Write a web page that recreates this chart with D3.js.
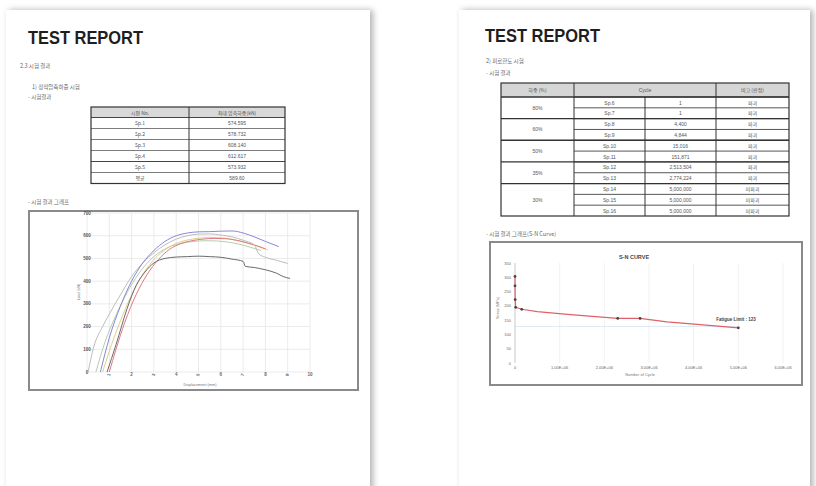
<!DOCTYPE html>
<html><head><meta charset="utf-8">
<script src="https://cdn.jsdelivr.net/npm/d3@7/dist/d3.min.js"></script>
<style>
html,body{margin:0;padding:0;background:#fff;}
svg{display:block;font-family:"Liberation Sans",Arial,sans-serif;}
.kr{font-family:"Noto Sans CJK KR","Liberation Sans",sans-serif;}
</style></head>
<body><svg id="c" width="816" height="486"></svg>
<script>
// ---------- DATA ----------
// Page 1 : static compression test table
const staticSpecimens = ["Sp.1","Sp.2","Sp.3","Sp.4","Sp.5","평균"];
const staticLoads = ["574.595","578.732","608.140","612.617","573.932","589.60"];
// Page 1 : load-displacement curves (displacement mm, load kN)
const dispTicks = [0,1,2,3,4,5,6,7,8,9,10];
const loadTicks = [0,100,200,300,400,500,600,700];
const disp_sp1 = [0.6,1.0,1.5,2.0,2.5,3.0,3.5,4.0,4.5,5.0,5.5,6.0,6.5,7.0,7.5,8.0,8.6];
const load_sp1 = [0,150,290,400,480,535,575,600,612,617,618,620,621,612,595,575,552];
const disp_sp2 = [0.05,0.3,0.7,1.0,1.5,2.0,2.5,3.0,3.5,4.0,4.5,5.0,5.5,6.0,6.5,7.0,7.5,7.7,8.0,8.5,9.0];
const load_sp2 = [0,110,200,255,340,420,480,525,560,585,600,607,608,603,595,580,560,520,505,492,478];
const disp_sp3 = [1.0,1.3,1.7,2.2,2.7,3.2,3.7,4.2,4.7,5.2,5.7,6.2,6.7,7.2,7.7,8.0];
const load_sp3 = [0,100,220,340,430,495,540,565,578,585,588,587,580,568,553,542];
const disp_sp4 = [0.7,1.1,1.6,2.1,2.6,3.1,3.6,4.1,4.6,5.1,5.6,6.1,6.6,7.1,7.6,8.1];
const load_sp4 = [0,120,250,360,445,505,545,570,583,590,592,590,582,570,555,538];
const disp_sp5 = [0.4,0.8,1.3,1.8,2.3,2.8,3.3,3.8,4.3,4.8,5.3,5.8,6.3,6.8,7.3,7.8];
const load_sp5 = [0,130,250,350,430,490,530,555,568,575,578,577,572,563,550,535];
const disp_sp6 = [0.9,1.3,1.8,2.2,2.6,3.0,3.5,4.0,4.5,5.0,5.5,6.0,6.5,7.0,7.1,7.5,8.0,8.5,8.8,9.1];
const load_sp6 = [0,120,280,380,440,480,500,506,508,510,508,505,497,487,465,460,450,435,420,412];
const curveColors = ["#8c86d8","#bdbdbd","#e07a80","#dcd08a","#b5cfae","#6a6a6a"];

// Page 2 : fatigue test table
const fatigueLevels = ["80%","60%","50%","35%","30%"];
const levelSpans = [2,2,2,2,3];
const fatigueSpecimens = ["Sp.6","Sp.7","Sp.8","Sp.9","Sp.10","Sp.11","Sp.12","Sp.13","Sp.14","Sp.15","Sp.16"];
const fatigueCycles = ["1","1","4,400","4,844","15,016","151,871","2,513,504","2,774,224","5,000,000","5,000,000","5,000,000"];
const fatigueResults = ["파괴","파괴","파괴","파괴","파괴","파괴","파괴","파괴","미파괴","미파괴","미파괴"];
// Page 2 : S-N curve
const cycleTicks = [0,1000000,2000000,3000000,4000000,5000000,6000000];
const cycleTickLabels = ["0","1.00E+06","2.00E+06","3.00E+06","4.00E+06","5.00E+06","6.00E+06"];
const stressTicks = [0,50,100,150,200,250,300,350];
const snCycles = [1,1,4400,15016,151871,2300000,2800000,5000000];
const snStress = [303,270,222,195,188,156,156,123];
const snCurveCycles = [1,1,4400,15016,151871,500000,1240000,2300000,2800000,3400000,4150000,5000000];
const snCurveStress = [303,270,222,195,188,180,169,156,156,144,134,123];
const fatigueLimit = 123;

// ---------- DRAW ----------
const svg = d3.select("#c");
const defs = svg.append("defs");
const f = defs.append("filter").attr("id","sh").attr("x","-10%").attr("y","-10%").attr("width","120%").attr("height","120%");
f.append("feDropShadow").attr("dx",3).attr("dy",0).attr("stdDeviation",3).attr("flood-color","#000").attr("flood-opacity",0.3);

svg.append("rect").attr("x",6).attr("y",10).attr("width",364).attr("height",500).attr("fill","#fff").attr("filter","url(#sh)");
svg.append("rect").attr("x",459).attr("y",10).attr("width",351).attr("height",500).attr("fill","#fff").attr("filter","url(#sh)");

function txt(g,x,y,s,size,opts={}){
  const t=g.append("text").attr("x",x).attr("y",y).text(s).attr("font-size",size)
    .attr("fill",opts.fill||"#666").attr("text-anchor",opts.anchor||"start");
  if(opts.kr) t.attr("class","kr");
  if(opts.bold) t.attr("font-weight","bold");
  return t;
}

// ===== Page 1 =====
const p1 = svg.append("g");
txt(p1,28,44,"TEST REPORT",17.5,{fill:"#1e1e1e",bold:true}).attr("textLength",115).attr("lengthAdjust","spacingAndGlyphs");
txt(p1,20,68,"2.3 시험 결과",5.5,{kr:true});
txt(p1,32,89,"1) 정적압축하중 시험",5.5,{kr:true});
txt(p1,28,99,"- 시험결과",5.5,{kr:true});

// table 1
const t1x=[91,189,285], t1y0=107, t1hh=10.5, t1rh=11;
p1.append("rect").attr("x",t1x[0]).attr("y",t1y0).attr("width",t1x[2]-t1x[0]).attr("height",t1hh).attr("fill","#d9d9d9");
txt(p1,(t1x[0]+t1x[1])/2,t1y0+7.5,"시편 No.",5,{kr:true,anchor:"middle",fill:"#555"});
txt(p1,(t1x[1]+t1x[2])/2,t1y0+7.5,"최대 압축하중(kN)",5,{kr:true,anchor:"middle",fill:"#555"});
staticSpecimens.forEach((s,i)=>{
  const y=t1y0+t1hh+i*t1rh;
  p1.append("line").attr("x1",t1x[0]).attr("x2",t1x[2]).attr("y1",y).attr("y2",y).attr("stroke","#444").attr("stroke-width",i===0||i===4?1.2:0.7);
  txt(p1,(t1x[0]+t1x[1])/2,y+7.5,s,5,{kr:true,anchor:"middle",fill:"#555"});
  txt(p1,(t1x[1]+t1x[2])/2,y+7.5,staticLoads[i],5,{anchor:"middle",fill:"#555"});
});
const t1h=t1hh+staticSpecimens.length*t1rh;
p1.append("rect").attr("x",t1x[0]).attr("y",t1y0).attr("width",t1x[2]-t1x[0]).attr("height",t1h).attr("fill","none").attr("stroke","#333").attr("stroke-width",1.2);
p1.append("line").attr("x1",t1x[1]).attr("x2",t1x[1]).attr("y1",t1y0).attr("y2",t1y0+t1h).attr("stroke","#333").attr("stroke-width",1);

txt(p1,28,204,"- 시험 결과 그래프",5.5,{kr:true});
// chart 1 frame
p1.append("rect").attr("x",29).attr("y",211).attr("width",329).attr("height",179).attr("fill","#fff").attr("stroke","#8a8a8a").attr("stroke-width",2);
const x1 = d3.scaleLinear().domain([0,10]).range([87,310]);
const y1 = d3.scaleLinear().domain([0,700]).range([372,213]);
const g1 = p1.append("g");
dispTicks.forEach(d=>g1.append("line").attr("x1",x1(d)).attr("x2",x1(d)).attr("y1",y1(700)).attr("y2",y1(0)).attr("stroke","#e6e6e6").attr("stroke-width",0.8));
loadTicks.forEach(d=>g1.append("line").attr("x1",x1(0)).attr("x2",x1(10)).attr("y1",y1(d)).attr("y2",y1(d)).attr("stroke","#e6e6e6").attr("stroke-width",0.8));
loadTicks.forEach(d=>txt(g1,x1(0),y1(d)+1.5,String(d),4.5,{anchor:"middle",fill:"#555",bold:true}));
dispTicks.forEach((d,i)=>{
  if(i===0) return;
  const t=txt(g1,x1(d),y1(0)+4,String(d),4.5,{anchor:"middle",fill:"#666",bold:true});
  if(i%2===1) t.attr("transform",`rotate(-70,${x1(d)},${y1(0)+3})`);
});
txt(g1,200,386,"Displacement (mm)",3.8,{anchor:"middle",fill:"#777"});
txt(g1,0,0,"Load (kN)",3.8,{anchor:"middle",fill:"#777"}).attr("transform","translate(80,292) rotate(-90)");
const line1 = d3.line().x(d=>x1(d[0])).y(d=>y1(d[1])).curve(d3.curveMonotoneX);
const series1 = [[disp_sp5,load_sp5],[disp_sp4,load_sp4],[disp_sp3,load_sp3],[disp_sp2,load_sp2],[disp_sp6,load_sp6],[disp_sp1,load_sp1]];
const colorOrder = [4,3,2,1,5,0];
series1.forEach((s,i)=>{
  const pts=s[0].map((x,j)=>[x,s[1][j]]);
  g1.append("path").attr("d",line1(pts)).attr("fill","none").attr("stroke",curveColors[colorOrder[i]]).attr("stroke-width",1);
});

// ===== Page 2 =====
const p2 = svg.append("g");
txt(p2,485,42,"TEST REPORT",17.5,{fill:"#1e1e1e",bold:true}).attr("textLength",115).attr("lengthAdjust","spacingAndGlyphs");
txt(p2,486,63,"2) 피로한도 시험",5.5,{kr:true});
txt(p2,486,75,"- 시험 결과",5.5,{kr:true});
const t2x=[501,574,645,716,789], t2y0=83, t2hh=14, t2rh=(216-97)/11;
p2.append("rect").attr("x",t2x[0]).attr("y",t2y0).attr("width",t2x[4]-t2x[0]).attr("height",t2hh).attr("fill","#d6d6d6");
txt(p2,(t2x[0]+t2x[1])/2,t2y0+9,"하중 (%)",5,{kr:true,anchor:"middle",fill:"#555"});
txt(p2,(t2x[1]+t2x[3])/2,t2y0+9,"Cycle",5,{anchor:"middle",fill:"#555"});
txt(p2,(t2x[3]+t2x[4])/2,t2y0+9,"비고 (판정)",5,{kr:true,anchor:"middle",fill:"#555"});
fatigueSpecimens.forEach((s,i)=>{
  const y=t2y0+t2hh+i*t2rh;
  p2.append("line").attr("x1",t2x[1]).attr("x2",t2x[4]).attr("y1",y).attr("y2",y).attr("stroke","#444").attr("stroke-width",0.9);
  txt(p2,(t2x[1]+t2x[2])/2,y+7.5,s,5,{anchor:"middle",fill:"#555"});
  txt(p2,(t2x[2]+t2x[3])/2,y+7.5,fatigueCycles[i],5,{anchor:"middle",fill:"#555"});
  txt(p2,(t2x[3]+t2x[4])/2,y+7.5,fatigueResults[i],5,{kr:true,anchor:"middle",fill:"#555"});
});
let row=0;
fatigueLevels.forEach((lv,i)=>{
  const y=t2y0+t2hh+row*t2rh;
  p2.append("line").attr("x1",t2x[0]).attr("x2",t2x[4]).attr("y1",y).attr("y2",y).attr("stroke","#333").attr("stroke-width",1.3);
  txt(p2,(t2x[0]+t2x[1])/2,y+levelSpans[i]*t2rh/2+2,lv,5,{anchor:"middle",fill:"#555"});
  row+=levelSpans[i];
});
const t2h=216-t2y0;
p2.append("rect").attr("x",t2x[0]).attr("y",t2y0).attr("width",t2x[4]-t2x[0]).attr("height",t2h).attr("fill","none").attr("stroke","#333").attr("stroke-width",1.2);
[1,3].forEach(k=>p2.append("line").attr("x1",t2x[k]).attr("x2",t2x[k]).attr("y1",t2y0).attr("y2",t2y0+t2h).attr("stroke","#333").attr("stroke-width",1));
p2.append("line").attr("x1",t2x[2]).attr("x2",t2x[2]).attr("y1",t2y0+t2hh).attr("y2",t2y0+t2h).attr("stroke","#333").attr("stroke-width",1);

txt(p2,486,236,"- 시험 결과 그래프(S-N Curve)",5.5,{kr:true});
p2.append("rect").attr("x",490).attr("y",242).attr("width",312).attr("height",143).attr("fill","#fff").attr("stroke","#8a8a8a").attr("stroke-width",2);
const x2 = d3.scaleLinear().domain([0,6000000]).range([515,783]);
const y2 = d3.scaleLinear().domain([0,350]).range([363,263]);
const g2 = p2.append("g");
txt(g2,634,259,"S-N CURVE",5.5,{anchor:"middle",fill:"#444",bold:true});
cycleTicks.forEach(d=>{ if(d>0) g2.append("line").attr("x1",x2(d)).attr("x2",x2(d)).attr("y1",y2(350)).attr("y2",y2(0)).attr("stroke","#eeeeee").attr("stroke-width",0.8);});
g2.append("line").attr("x1",x2(0)).attr("x2",x2(5000000)).attr("y1",y2(fatigueLimit+5)).attr("y2",y2(fatigueLimit+5)).attr("stroke","#cfe3f2").attr("stroke-width",0.8);
g2.append("line").attr("x1",x2(0)).attr("x2",x2(0)).attr("y1",y2(350)).attr("y2",y2(0)).attr("stroke","#bbb").attr("stroke-width",0.8);
stressTicks.forEach(d=>txt(g2,x2(0)-4,y2(d)+1.5,String(d),4,{anchor:"end",fill:"#666"}));
cycleTicks.forEach((d,i)=>txt(g2,x2(d),y2(0)+5.5,cycleTickLabels[i],4,{anchor:"middle",fill:"#666"}));
txt(g2,x2(2800000),376,"Number of Cycle",4,{anchor:"middle",fill:"#777"});
txt(g2,0,0,"Stress (MPa)",3.8,{anchor:"middle",fill:"#777"}).attr("transform","translate(499,308) rotate(-90)");
const line2 = d3.line().x(d=>x2(d[0])).y(d=>y2(d[1]));
g2.append("path").attr("d",line2(snCurveCycles.map((c,i)=>[c,snCurveStress[i]]))).attr("fill","none").attr("stroke","#e0606a").attr("stroke-width",1.2);
snCycles.forEach((c,i)=>g2.append("circle").attr("cx",x2(c)).attr("cy",y2(snStress[i])).attr("r",1.4).attr("fill","#444"));
txt(g2,x2(5000000)-22,y2(fatigueLimit)-7,"Fatigue Limit : "+fatigueLimit,4.5,{fill:"#444",bold:true});
</script></body></html>
